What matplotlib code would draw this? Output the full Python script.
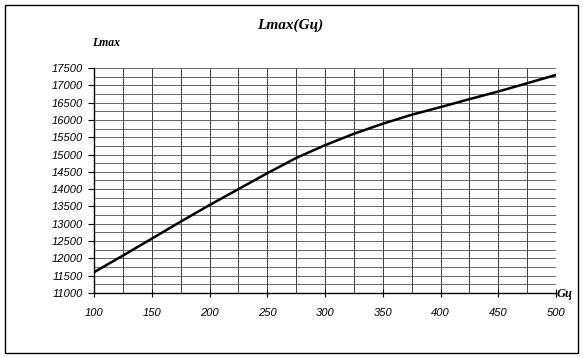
import matplotlib
matplotlib.use("Agg")
import matplotlib.pyplot as plt
from matplotlib.patches import Rectangle

gu = [100, 125, 150, 175, 200, 225, 250, 275, 300, 325, 350, 375, 400, 425, 450, 475, 500]
lmax = [11600, 12080, 12570, 13060, 13540, 14000, 14460, 14900, 15270, 15600,
        15890, 16150, 16370, 16600, 16820, 17060, 17300]

x_ticks = [100, 150, 200, 250, 300, 350, 400, 450, 500]
y_ticks = list(range(11000, 17501, 500))

fig = plt.figure(figsize=(5.83, 3.58), dpi=100)
fig.patches.append(Rectangle((5 / 583, 5 / 358), 573 / 583, 348 / 358,
                             transform=fig.transFigure, fill=False,
                             edgecolor="black", linewidth=1.0))

ax = fig.add_axes([94 / 583, 1 - 293 / 358, 462 / 583, 225 / 358])
ax.set_xlim(100, 500)
ax.set_ylim(11000, 17500)

for xv in range(100, 501, 25):
    ax.axvline(xv, color="#404040", linewidth=0.7, zorder=1)
for yv in range(11000, 17501, 250):
    ax.axhline(yv, color="#505050", linewidth=0.6, zorder=1)

ax.plot(gu, lmax, color="black", linewidth=1.8, zorder=3)

for side in ("top", "right"):
    ax.spines[side].set_visible(False)
ax.spines["left"].set_linewidth(1.0)
ax.spines["bottom"].set_linewidth(1.0)

ax.set_xticks(x_ticks)
ax.set_yticks(y_ticks)
ax.tick_params(axis="x", direction="inout", length=6, width=0.8, pad=8)
ax.tick_params(axis="y", direction="out", length=4, width=0.8, pad=4)
for lbl in ax.get_xticklabels() + ax.get_yticklabels():
    lbl.set_fontfamily("Liberation Sans")
    lbl.set_fontstyle("italic")
    lbl.set_fontsize(8)

fig.text(290 / 583, 1 - 25 / 358, "Lmax(Gц)", family="Liberation Serif",
         style="italic", weight="bold", fontsize=11, ha="center", va="center")
fig.text(92 / 583, 1 - 43 / 358, "Lmax", family="Liberation Serif",
         style="italic", weight="bold", fontsize=8.5, ha="left", va="center")
fig.text(557 / 583, 1 - 294 / 358, "Gц", family="Liberation Serif",
         style="italic", weight="bold", fontsize=9, ha="left", va="center")

fig.savefig("out.png", dpi=100)
plt.close(fig)
